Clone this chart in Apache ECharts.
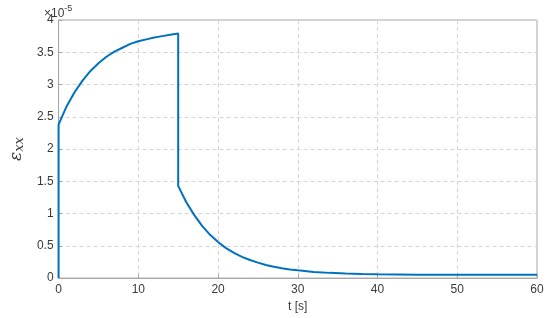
<!DOCTYPE html>
<html>
<head>
<meta charset="utf-8">
<script src="https://cdn.jsdelivr.net/npm/echarts@6/dist/echarts.min.js"></script>
<style>
  html, body { margin: 0; padding: 0; background: #fff; }
  #main { width: 550px; height: 318px; }
</style>
</head>
<body>
<div id="main"></div>
<script>
// time [s] and strain (x 1e-5)
var tVals = [0, 0, 1, 2, 3, 4, 5, 6, 7, 8, 9, 10, 11, 12, 13, 14, 15,
    15, 16, 17, 18, 19, 20, 21, 22, 23, 24, 25, 26, 27, 28, 29, 30,
    32, 34, 36, 38, 40, 45, 50, 55, 60];
var epsVals = [0, 2.38, 2.66, 2.88, 3.06, 3.21, 3.33, 3.43, 3.51, 3.57, 3.63, 3.67, 3.70, 3.73, 3.75, 3.77, 3.79,
    1.43, 1.18, 0.98, 0.81, 0.67, 0.56, 0.465, 0.39, 0.33, 0.28, 0.24, 0.203, 0.175, 0.153, 0.134, 0.12,
    0.096, 0.081, 0.071, 0.064, 0.06, 0.053, 0.051, 0.05, 0.05];
var xTicks = [0, 10, 20, 30, 40, 50, 60];
var yTicks = [0, 0.5, 1, 1.5, 2, 2.5, 3, 3.5, 4];

var data = [];
for (var i = 0; i < tVals.length; i++) {
    data.push([tVals[i], epsVals[i]]);
}

var myChart = echarts.init(document.getElementById('main'));

var axisGray = '#a6a6a6';
var textGray = '#3a3a3a';
var splitStyle = { color: '#d4d4d4', type: [4, 3], width: 1 };

option = {
    animation: false,
    backgroundColor: '#fff',
    grid: {
        left: 44,
        right: 13,
        top: 20,
        bottom: 37,
        show: true,
        borderColor: axisGray,
        borderWidth: 1
    },
    xAxis: {
        type: 'value',
        min: xTicks[0],
        max: xTicks[xTicks.length - 1],
        interval: 10,
        name: 't [s]',
        nameLocation: 'middle',
        nameGap: 20,
        nameTextStyle: { color: textGray, fontSize: 12, fontFamily: 'Liberation Sans' },
        axisLine: { lineStyle: { color: axisGray } },
        axisTick: { inside: true, length: 4, lineStyle: { color: axisGray } },
        axisLabel: { color: textGray, fontSize: 12, fontFamily: 'Liberation Sans', margin: 6 },
        splitLine: { lineStyle: splitStyle }
    },
    yAxis: {
        type: 'value',
        min: yTicks[0],
        max: yTicks[yTicks.length - 1],
        interval: 0.5,
        name: '{e|ε}{s|xx}',
        nameLocation: 'middle',
        nameGap: 25,
        nameRotate: 90,
        nameTextStyle: {
            rich: {
                e: { fontFamily: 'DejaVu Serif', fontStyle: 'italic', fontSize: 17, color: textGray },
                s: { fontFamily: 'DejaVu Serif', fontStyle: 'italic', fontSize: 13, color: textGray, padding: [6, 0, 0, 0] }
            }
        },
        axisLine: { show: true, lineStyle: { color: axisGray } },
        axisTick: { show: true, inside: true, length: 4, lineStyle: { color: axisGray } },
        axisLabel: { color: textGray, fontSize: 12, fontFamily: 'Liberation Sans', margin: 5 },
        splitLine: { lineStyle: splitStyle }
    },
    graphic: [{
        type: 'text',
        left: 44,
        top: 4,
        style: {
            text: '{a|×10}{b|-5}',
            rich: {
                a: { fontSize: 12, fontFamily: 'Liberation Sans', fill: textGray, padding: [5, 0, 0, 0] },
                b: { fontSize: 9, fontFamily: 'Liberation Sans', fill: textGray, padding: [0, 0, 6, 0] }
            }
        }
    }],
    series: [{
        type: 'line',
        data: data,
        showSymbol: false,
        smooth: false,
        lineStyle: { color: '#0072BD', width: 2 },
        itemStyle: { color: '#0072BD' }
    }]
};

myChart.setOption(option);
</script>
</body>
</html>
